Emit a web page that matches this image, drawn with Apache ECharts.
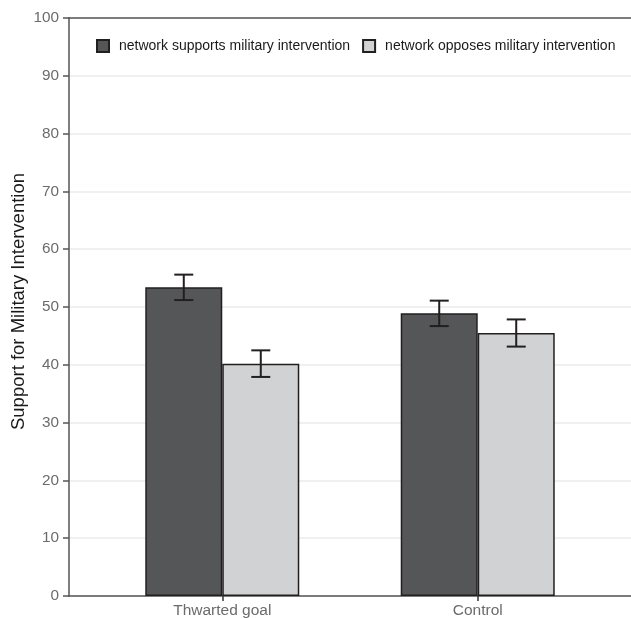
<!DOCTYPE html>
<html>
<head>
<meta charset="utf-8">
<script src="https://cdn.jsdelivr.net/npm/echarts@6/dist/echarts.min.js"></script>
<style>
  html, body { margin: 0; padding: 0; background: #fff; }
  #chart { width: 631px; height: 618px; }
</style>
</head>
<body>
<div id="chart"></div>
<script>
// groups on the x axis (positions 1 and 2)
var groups = ['Thwarted goal', 'Control'];
var groupPos = [1, 2];
var seriesNames = ['network supports military intervention', 'network opposes military intervention'];
var supportsMean = [53.4, 48.9];
var supportsErr = [2.2, 2.2];
var opposesMean = [40.2, 45.5];
var opposesErr = [2.3, 2.35];
var yTicks = [0, 10, 20, 30, 40, 50, 60, 70, 80, 90, 100];

var barW = 77;
var edge = '#231f20';

function barData(means) {
  return means.map(function (v, i) { return [groupPos[i], v]; });
}
function errData(means, errs) {
  return means.map(function (v, i) { return [groupPos[i], v - errs[i], v + errs[i]]; });
}

function errSeries(means, errs, shift) {
  return {
    type: 'custom',
    silent: true,
    z: 5,
    data: errData(means, errs),
    renderItem: function (params, api) {
      var lo = api.coord([api.value(0), api.value(1)]);
      var hi = api.coord([api.value(0), api.value(2)]);
      var x = lo[0] + shift;
      var cap = 9.5;
      var st = { stroke: edge, lineWidth: 2, fill: null };
      return {
        type: 'group',
        children: [
          { type: 'line', shape: { x1: x, y1: lo[1], x2: x, y2: hi[1] }, style: st },
          { type: 'line', shape: { x1: x - cap, y1: lo[1], x2: x + cap, y2: lo[1] }, style: st },
          { type: 'line', shape: { x1: x - cap, y1: hi[1], x2: x + cap, y2: hi[1] }, style: st }
        ]
      };
    }
  };
}

var chart = echarts.init(document.getElementById('chart'));
chart.setOption({
  animation: false,
  textStyle: { fontFamily: 'Liberation Sans, Arial, sans-serif' },
  grid: { left: 69, right: 0, top: 18, bottom: 22, outerBoundsMode: 'none', containLabel: false },
  legend: {
    left: 91,
    top: 34,
    icon: 'rect',
    itemWidth: 12,
    itemHeight: 12,
    itemGap: 12,
    textStyle: { fontSize: 14, color: '#1a1a1a', padding: [0, 0, 0, 5] },
    data: seriesNames
  },
  xAxis: [{
    type: 'value',
    min: 0.4,
    max: 2.6,
    splitLine: { show: false },
    axisLine: { show: true, lineStyle: { color: '#555', width: 1.5 } },
    axisTick: { show: true, customValues: groupPos, length: 5, lineStyle: { color: '#333', width: 1.5 } },
    axisLabel: {
      customValues: groupPos,
      margin: 7,
      fontSize: 15.5,
      color: '#6b6b6b',
      formatter: function (v) { return groups[Math.round(v) - 1]; }
    }
  }, {
    type: 'value',
    position: 'top',
    min: 0.4,
    max: 2.6,
    splitLine: { show: false },
    axisLine: { show: true, onZero: false, lineStyle: { color: '#555', width: 1.5 } },
    axisTick: { show: false },
    axisLabel: { show: false }
  }],
  yAxis: {
    type: 'value',
    min: 0,
    max: 100,
    interval: 10,
    name: 'Support for Military Intervention',
    nameLocation: 'middle',
    nameGap: 41,
    nameMoveOverlap: false,
    nameTextStyle: { fontSize: 18.5, color: '#1a1a1a', padding: [0, 0, 0, 11] },
    axisLine: { show: true, lineStyle: { color: '#555', width: 1.5 } },
    axisTick: { show: true, length: 6, lineStyle: { color: '#555', width: 1.5 } },
    axisLabel: {
      fontSize: 15.3,
      color: '#6b6b6b',
      margin: 10,
      formatter: function (v) { return yTicks.indexOf(v) >= 0 ? String(v) : ''; }
    },
    splitLine: { show: true, lineStyle: { color: '#ebebeb', width: 1.5 } }
  },
  series: [{
    name: seriesNames[0],
    type: 'bar',
    barWidth: barW,
    barGap: '0%',
    data: barData(supportsMean),
    itemStyle: { color: '#555658', borderColor: edge, borderWidth: 1.5 }
  }, {
    name: seriesNames[1],
    type: 'bar',
    barWidth: barW,
    barGap: '0%',
    data: barData(opposesMean),
    itemStyle: { color: '#d1d2d4', borderColor: edge, borderWidth: 1.5 }
  },
  errSeries(supportsMean, supportsErr, -barW / 2),
  errSeries(opposesMean, opposesErr, barW / 2)
  ]
});
</script>
</body>
</html>
